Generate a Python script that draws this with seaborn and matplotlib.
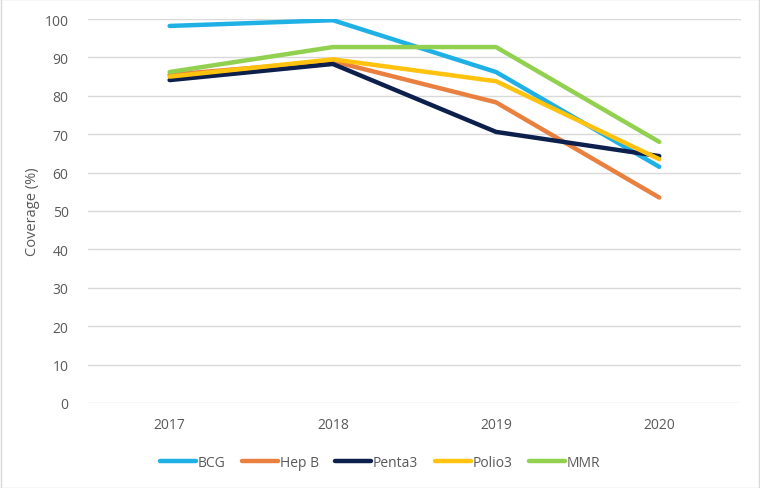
import matplotlib
matplotlib.use("Agg")
import matplotlib.pyplot as plt
import seaborn as sns
import pandas as pd

years = ["2017", "2018", "2019", "2020"]
bcg = [98.2, 99.7, 86.2, 61.5]
hepb = [85.5, 89.0, 78.3, 53.5]
penta3 = [84.1, 88.3, 70.6, 64.3]
polio3 = [85.0, 89.5, 83.8, 63.5]
mmr = [86.2, 92.7, 92.7, 68.0]

series = {"BCG": bcg, "Hep B": hepb, "Penta3": penta3, "Polio3": polio3, "MMR": mmr}
colors = {"BCG": "#1FB1E6", "Hep B": "#E9803F", "Penta3": "#0C1F4D",
          "Polio3": "#FFC20E", "MMR": "#92D050"}

rows = []
for name, vals in series.items():
    for y, v in zip(years, vals):
        rows.append({"Year": y, "Vaccine": name, "Coverage": v})
df = pd.DataFrame(rows)

sns.set_theme(style="white")
plt.rcParams['font.family'] = ['Open Sans', 'DejaVu Sans']

fig = plt.figure(figsize=(7.6, 4.89), dpi=100)
ax = fig.add_axes([0.1158, 0.174, 0.859, 0.785])

sns.lineplot(data=df, x="Year", y="Coverage", hue="Vaccine", palette=colors,
             linewidth=3.2, ax=ax, sort=False, legend=True)

ax.set_ylim(0, 100)
ax.set_xlim(-0.5, 3.5)
ax.set_yticks(range(0, 101, 10))
ax.yaxis.grid(True, color="#D9D9D9", linewidth=1)
ax.set_axisbelow(True)
for s in ax.spines.values():
    s.set_visible(False)
ax.tick_params(axis="both", length=0, labelsize=10, colors="#595959")
ax.tick_params(axis="y", pad=14)
ax.tick_params(axis="x", pad=10)
ax.set_xlabel("")
ax.set_ylabel("Coverage (%)", fontsize=10.5, color="#595959", labelpad=3)

handles, labels = ax.get_legend_handles_labels()
ax.get_legend().remove()
leg = fig.legend(handles, labels, loc="center", bbox_to_anchor=(0.5, 0.053), ncol=5,
                 frameon=False, fontsize=10, handlelength=2.6, handletextpad=0.1,
                 columnspacing=1.2)
for t in leg.get_texts():
    t.set_color("#595959")
for l in leg.get_lines():
    l.set_linewidth(3.2)

fig.patches.append(plt.Rectangle((0.001, 0.001), 0.998, 0.998, transform=fig.transFigure,
                                 fill=False, edgecolor="#D9D9D9", linewidth=1))
fig.savefig("out.png", dpi=100)
